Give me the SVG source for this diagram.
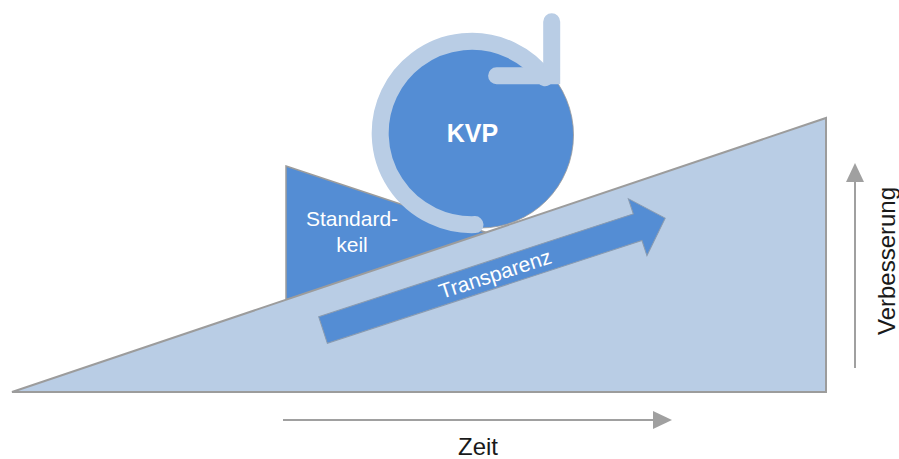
<svg xmlns="http://www.w3.org/2000/svg" width="899" height="459" viewBox="0 0 899 459">
  <style>
    .dark { fill: #548DD4; }
    .light { fill: #B9CDE5; }
    .edge { stroke: #9C9C9C; stroke-width: 1.5; }
    .ring { fill: none; stroke: #B9CDE5; stroke-width: 17; }
    .axis { stroke: #A0A0A0; stroke-width: 2; fill: none; }
    .head { fill: #A0A0A0; }
    .inner { font-family: "Liberation Sans", Arial, sans-serif; fill: #FFFFFF; font-size: 21px; text-anchor: middle; }
    .outer { font-family: "Liberation Sans", Arial, sans-serif; fill: #1A1A1A; font-size: 24px; text-anchor: middle; }
  </style>
  <rect width="899" height="459" fill="#FFFFFF"/>

  <!-- wedge holding the ball on the slope -->
  <g id="standardkeil">
    <polygon class="dark edge" points="286,166 488,233 286,300"/>
    <text class="inner" x="352" y="226">Standard-</text>
    <text class="inner" x="352" y="252">keil</text>
  </g>

  <!-- improvement cycle ball -->
  <g id="kvp">
    <circle class="dark" cx="480.5" cy="135" r="93" stroke="#9C9C9C" stroke-width="0.8"/>
    <path class="ring" stroke-linecap="round" d="M 475 224.6 A 91.65 91.65 0 1 1 545 77.8"/>
    <polyline class="ring" stroke-linecap="round" stroke-linejoin="miter" points="551.7,21.7 551.7,75.8 496.6,75.8"/>
    <text x="472.5" y="142" font-family="Liberation Sans, Arial, sans-serif" font-size="25" font-weight="bold" fill="#FFFFFF" text-anchor="middle">KVP</text>
  </g>

  <!-- slope -->
  <g id="slope">
    <polygon class="light" points="12,392 826,118 826,392" stroke="#9C9C9C" stroke-width="2" stroke-linejoin="miter"/>
  </g>

  <!-- transparency arrow along the slope -->
  <g id="transparenz" transform="translate(323,330) rotate(-18.1)">
    <polygon class="dark" stroke="#8A9BB0" stroke-width="1" points="0,-14 331,-14 331,-30 360,0 331,30 331,14 0,14"/>
    <text class="inner" x="181" y="7.5">Transparenz</text>
  </g>

  <!-- axes -->
  <g id="connectors">
    <line class="axis" x1="283" y1="420" x2="655" y2="420"/>
    <polygon class="head" points="653,411 672,420 653,429"/>
    <line class="axis" x1="855" y1="368" x2="855" y2="180"/>
    <polygon class="head" points="846,182 855,163 864,182"/>
  </g>

  <g id="zeit">
    <text class="outer" x="478" y="455">Zeit</text>
  </g>
  <g id="verbesserung">
    <text class="outer" transform="translate(895,261) rotate(-90)">Verbesserung</text>
  </g>
</svg>
